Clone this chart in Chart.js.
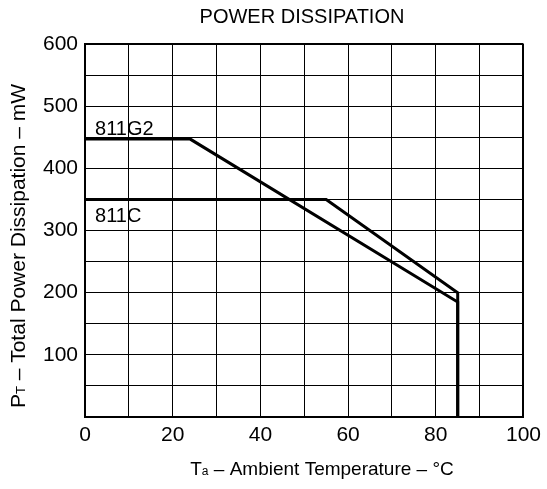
<!DOCTYPE html>
<html>
<head>
<meta charset="utf-8">
<script src="https://cdn.jsdelivr.net/npm/chart.js@4/dist/chart.umd.min.js"></script>
<style>
html,body{margin:0;padding:0;background:#fff;}
#wrap{width:547px;height:489px;position:relative;}
</style>
</head>
<body>
<div id="wrap"><canvas id="c" width="547" height="489"></canvas></div>
<script>
// ---- data ----
const seriesNames = ["811G2", "811C"];
const g2Temp = [0, 24, 85, 85];
const g2Power = [447, 447, 185, 0];
const cTemp = [0, 55, 85, 85];
const cPower = [350, 350, 200, 0];
const xTickLabels = [0, 20, 40, 60, 80, 100];
const yTickLabels = [100, 200, 300, 400, 500, 600];
const labelAnchors = [[2.3, 454], [2.3, 314]]; // data-space positions of series labels
const chartTitle = "POWER DISSIPATION";

const FONT = "'Liberation Sans', Arial, Helvetica, sans-serif";

function pts(xs, ys){ return xs.map((x,i)=>({x:x, y:ys[i]})); }

const textPlugin = {
  id: 'texts',
  afterDraw(chart){
    const ctx = chart.ctx;
    const xs = chart.scales.x, ys = chart.scales.y;
    ctx.save();
    ctx.fillStyle = '#000';
    // title
    ctx.font = '20px ' + FONT;
    ctx.textAlign = 'center';
    ctx.textBaseline = 'middle';
    ctx.fillText(chartTitle, 302, 17);
    // series labels
    ctx.font = '20px ' + FONT;
    ctx.textAlign = 'left';
    ctx.textBaseline = 'alphabetic';
    seriesNames.forEach((n,i)=>{
      ctx.fillText(n, xs.getPixelForValue(labelAnchors[i][0]), ys.getPixelForValue(labelAnchors[i][1]));
    });
    // axis titles with subscripts
    function drawSub(parts, cx, cy, big, small){
      let w = 0;
      parts.forEach(p=>{ ctx.font = (p[1]? small:big) + 'px ' + FONT; w += ctx.measureText(p[0]).width; });
      let x = cx - w/2;
      parts.forEach(p=>{
        ctx.font = (p[1]? small:big) + 'px ' + FONT;
        ctx.fillText(p[0], x, cy);
        x += ctx.measureText(p[0]).width;
      });
    }
    ctx.textAlign = 'left';
    ctx.textBaseline = 'alphabetic';
    drawSub([["T",false],["a",true],[" \u2013 Ambient Temperature \u2013 \u00B0C",false]], 322, 475, 19, 12);
    ctx.save();
    ctx.translate(25, 246);
    ctx.rotate(-Math.PI/2);
    drawSub([["P",false],["T",true],[" \u2013 Total Power Dissipation \u2013 mW",false]], 0, 0, 21, 13);
    ctx.restore();
    ctx.restore();
  }
};

new Chart(document.getElementById('c'), {
  type: 'scatter',
  data: {
    datasets: [
      { label: seriesNames[0], data: pts(g2Temp, g2Power), showLine: true, borderColor:'#000', borderWidth:3, pointRadius:0, fill:false, tension:0 },
      { label: seriesNames[1], data: pts(cTemp, cPower), showLine: true, borderColor:'#000', borderWidth:3, pointRadius:0, fill:false, tension:0 }
    ]
  },
  options: {
    responsive: false,
    animation: false,
    layout: { padding: { top: 44, right: 20, left: 0, bottom: 0 } },
    plugins: { legend: { display:false }, tooltip: { enabled:false }, title: { display:false } },
    scales: {
      x: {
        type: 'linear', min: 0, max: 100,
        ticks: { stepSize: 10, color:'#000', font:{ size:21, family: FONT }, padding: 6,
          callback: v => xTickLabels.includes(v) ? String(v) : '' , maxRotation:0, autoSkip:false },
        grid: { color:'#000', lineWidth: c => (c.tick && c.tick.value === 100) ? 2 : 1, drawTicks:false },
        border: { color:'#000', width:2 },
        afterFit: s => { s.height = 72; }
      },
      y: {
        type: 'linear', min: 0, max: 600,
        ticks: { stepSize: 50, color:'#000', font:{ size:21, family: FONT }, padding: 7,
          callback: v => yTickLabels.includes(v) ? String(v) : '', autoSkip:false },
        grid: { color:'#000', lineWidth: c => (c.tick && c.tick.value === 600) ? 2 : 1, drawTicks:false },
        border: { color:'#000', width:2 },
        afterFit: s => { s.width = 85; }
      }
    }
  },
  plugins: [textPlugin]
});
</script>
</body>
</html>
